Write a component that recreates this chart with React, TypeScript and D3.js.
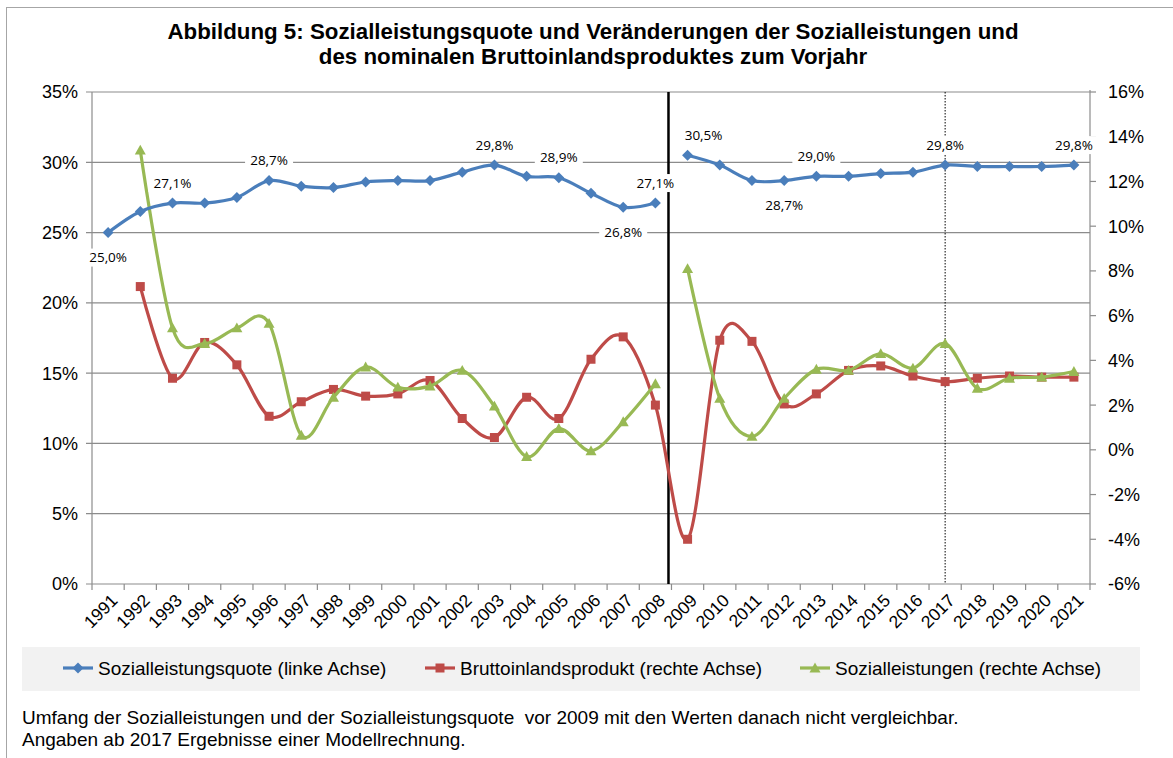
import React from "react";
import * as d3 from "d3";

const years = d3.range(1991, 2022).map(String);
const quote: (number | null)[] = [25.0, 26.5, 27.1, 27.1, 27.5, 28.7, 28.3, 28.2, 28.6, 28.7, 28.7, 29.3, 29.8, 29.0, 28.9, 27.8, 26.8, 27.1, 30.5, 29.8, 28.7, 28.7, 29.0, 29.0, 29.2, 29.3, 29.8, 29.7, 29.7, 29.7, 29.8];
const bip: (number | null)[] = [null, 7.3, 3.2, 4.8, 3.8, 1.5, 2.15, 2.7, 2.4, 2.5, 3.1, 1.4, 0.55, 2.35, 1.4, 4.05, 5.05, 2.0, -4.0, 4.9, 4.85, 2.05, 2.5, 3.55, 3.75, 3.3, 3.05, 3.2, 3.3, 3.25, 3.25];
const leist: (number | null)[] = [null, 13.4, 5.45, 4.75, 5.45, 5.65, 0.65, 2.35, 3.7, 2.8, 2.85, 3.55, 1.95, -0.3, 0.95, -0.05, 1.25, 2.95, 8.1, 2.3, 0.6, 2.3, 3.6, 3.55, 4.3, 3.65, 4.75, 2.75, 3.2, 3.25, 3.5];
// indices where the series are broken (not comparable before/after 2009)
const quoteSegments = [[0, 17], [18, 30]];
const leistSegments = [[1, 17], [18, 30]];
const bipSegments = [[1, 30]];
const leftTicks = [0, 5, 10, 15, 20, 25, 30, 35];
const rightTicks = [-6, -4, -2, 0, 2, 4, 6, 8, 10, 12, 14, 16];
// data labels for the quote series: [index, position, x shift]
const quoteLabels: [number, string, number][] = [
  [0, "below", 0], [2, "above", 0], [5, "above", 0], [12, "above", 0], [14, "above", 0],
  [16, "below", 0], [17, "above", 0], [18, "above", 16], [21, "below", 0], [22, "above", 0],
  [26, "above", 0], [30, "above", 0],
];
const titleLines = [
  "Abbildung 5: Sozialleistungsquote und Veränderungen der Sozialleistungen und",
  "des nominalen Bruttoinlandsproduktes zum Vorjahr",
];
const legendItems = [
  { name: "Sozialleistungsquote (linke Achse)", color: "#4A7EBB", shape: "diamond" },
  { name: "Bruttoinlandsprodukt (rechte Achse)", color: "#BE4B48", shape: "square" },
  { name: "Sozialleistungen (rechte Achse)", color: "#98B954", shape: "triangle" },
];
const notes = [
  "Umfang der Sozialleistungen und der Sozialleistungsquote  vor 2009 mit den Werten danach nicht vergleichbar.",
  "Angaben ab 2017 Ergebnisse einer Modellrechnung.",
];

const W = 1173, H = 758;
const L = 92, R = 1090, T = 92, B = 584;
const font = "'Liberation Sans', Arial, sans-serif";
const gridC = "#8C8C8C";

function fmt(v: number) {
  return v.toFixed(1).replace(".", ",") + "%";
}

function Marker({ shape, x, y, color }: { shape: string; x: number; y: number; color: string }) {
  if (shape === "diamond") {
    const s = 5.5;
    return <path d={`M${x},${y - s}L${x + s},${y}L${x},${y + s}L${x - s},${y}Z`} fill={color} />;
  }
  if (shape === "square") {
    const s = 4.5;
    return <rect x={x - s} y={y - s} width={2 * s} height={2 * s} fill={color} />;
  }
  const s = 5.5;
  return <path d={`M${x},${y - s}L${x + s},${y + s * 0.8}L${x - s},${y + s * 0.8}Z`} fill={color} />;
}

export default function App() {
  const x = d3.scaleBand<string>().domain(years).range([L, R]).padding(0);
  const cx = (i: number) => (x(years[i]) as number) + x.bandwidth() / 2;
  const yL = d3.scaleLinear().domain([0, 35]).range([B, T]);
  const yR = d3.scaleLinear().domain([-6, 16]).range([B, T]);
  const curve = d3.curveCardinal.tension(0);

  const mkLine = (vals: (number | null)[], y: d3.ScaleLinear<number, number>, segs: number[][]) =>
    segs.map(([a, b]) => {
      const pts: [number, number][] = [];
      for (let i = a; i <= b; i++) if (vals[i] != null) pts.push([cx(i), y(vals[i] as number)]);
      return d3.line().curve(curve)(pts) as string;
    });

  const series = [
    { vals: bip, y: yR, segs: bipSegments, ...legendItems[1] },
    { vals: leist, y: yR, segs: leistSegments, ...legendItems[2] },
    { vals: quote, y: yL, segs: quoteSegments, ...legendItems[0] },
  ];

  const breakX = (cx(17) + cx(18)) / 2 - 3;
  const dotX = cx(26);

  const legendX = [63, 425, 800];

  return (
    <svg width={W} height={H} style={{ position: "absolute", left: 0, top: 0, background: "#fff" }} fontFamily={font}>
      <rect x={6.5} y={7.5} width={W + 10} height={H + 10} fill="none" stroke="#A6A6A6" strokeWidth={1} />
      {titleLines.map((t, i) => (
        <text key={i} x={593} y={39 + i * 25} textAnchor="middle" fontWeight="bold" fontSize={22.3}>{t}</text>
      ))}
      {leftTicks.map((v) => (
        <g key={v}>
          <line x1={L - 6} x2={R} y1={yL(v)} y2={yL(v)} stroke={gridC} strokeWidth={1.2} />
          <text x={78} y={yL(v)} dy="0.36em" textAnchor="end" fontSize={18}>{v}%</text>
        </g>
      ))}
      {rightTicks.map((v) => (
        <g key={v}>
          <line x1={R} x2={R + 6} y1={yR(v)} y2={yR(v)} stroke={gridC} strokeWidth={1.2} />
          <text x={1108} y={yR(v)} dy="0.36em" textAnchor="start" fontSize={18}>{v}%</text>
        </g>
      ))}
      <line x1={L} x2={L} y1={T} y2={B} stroke={gridC} strokeWidth={1.2} />
      <line x1={R} x2={R} y1={T - 2} y2={B} stroke={gridC} strokeWidth={1.2} />
      {years.map((yr) => (
        <line key={yr} x1={x(yr) as number} x2={x(yr) as number} y1={B} y2={B + 6} stroke={gridC} strokeWidth={1.2} />
      ))}
      <line x1={R} x2={R} y1={B} y2={B + 6} stroke={gridC} strokeWidth={1.2} />
      {years.map((yr, i) => (
        <text key={yr} transform={`translate(${cx(i) + 2},${B + 9}) rotate(-45)`} textAnchor="end" dy="0.7em" fontSize={17.5}>{yr}</text>
      ))}
      <line x1={breakX} x2={breakX} y1={T} y2={B} stroke="#000" strokeWidth={2.5} />
      <line x1={dotX} x2={dotX} y1={T} y2={B} stroke="#000" strokeWidth={1} strokeDasharray="1.5,1.5" />
      {series.map((s) => (
        <g key={s.name}>
          {mkLine(s.vals, s.y, s.segs).map((d, k) => (
            <path key={k} d={d} fill="none" stroke={s.color} strokeWidth={3.2} strokeLinejoin="round" />
          ))}
          {s.vals.map((v, i) => (v == null ? null : <Marker key={i} shape={s.shape} x={cx(i)} y={s.y(v)} color={s.color} />))}
        </g>
      ))}
      {quoteLabels.map(([i, pos, dx]) => {
        const px = cx(i) + dx;
        const py = yL(quote[i] as number) + (pos === "above" ? -20 : 25);
        const t = fmt(quote[i] as number);
        return (
          <g key={i}>
            <rect x={px - 24} y={py - 9} width={48} height={18} fill="#fff" />
            <text x={px} y={py} dy="0.35em" textAnchor="middle" fontSize={13.5} fontFamily="'Open Sans', 'Noto Sans', sans-serif">{t}</text>
          </g>
        );
      })}
      <rect x={22} y={647} width={1118} height={44} fill="#F2F2F2" />
      {legendItems.map((it, i) => (
        <g key={it.name}>
          <line x1={legendX[i]} x2={legendX[i] + 30} y1={668} y2={668} stroke={it.color} strokeWidth={3.2} />
          <Marker shape={it.shape} x={legendX[i] + 15} y={668} color={it.color} />
          <text x={legendX[i] + 35} y={668} dy="0.36em" fontSize={19}>{it.name}</text>
        </g>
      ))}
      {notes.map((n, i) => (
        <text key={i} x={22} y={724 + i * 22} fontSize={19} style={{ whiteSpace: "pre" }}>{n}</text>
      ))}
    </svg>
  );
}
